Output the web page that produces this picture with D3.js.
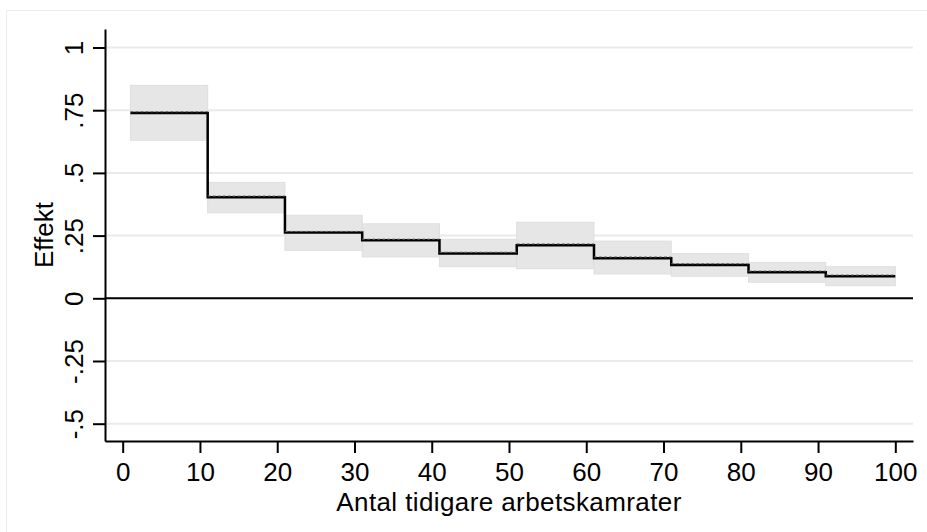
<!DOCTYPE html>
<html>
<head>
<meta charset="utf-8">
<script src="https://cdn.jsdelivr.net/npm/d3@7"></script>
<style>
  body { margin: 0; background: #fff; }
  text { font-family: "Liberation Sans", Arial, sans-serif; fill: #000; }
</style>
</head>
<body>
<script>
// bins of number of previous coworkers
var binStart = [1, 11, 21, 31, 41, 51, 61, 71, 81, 91];
var binEnd = [11, 21, 31, 41, 51, 61, 71, 81, 91, 100];
// estimated effect and confidence band
var effekt = [0.739, 0.403, 0.262, 0.231, 0.179, 0.212, 0.160, 0.133, 0.104, 0.088];
var ciLow = [0.630, 0.341, 0.191, 0.165, 0.126, 0.118, 0.097, 0.088, 0.064, 0.050];
var ciHigh = [0.849, 0.462, 0.331, 0.297, 0.235, 0.303, 0.228, 0.178, 0.143, 0.126];
// tick labels
var xTicks = [0, 10, 20, 30, 40, 50, 60, 70, 80, 90, 100];
var yTicks = [-0.5, -0.25, 0, 0.25, 0.5, 0.75, 1];
var yTickLabels = ["-.5", "-.25", "0", ".25", ".5", ".75", "1"];
var xTitle = "Antal tidigare arbetskamrater";
var yTitle = "Effekt";

var svgWidth = 927;
var svgHeight = 532;
var fontSize = "26px";

var margin = { top: 29, right: 14, bottom: 91, left: 105 };
var chartWidth = svgWidth - margin.left - margin.right;
var chartHeight = svgHeight - margin.top - margin.bottom;

var svg = d3.select("body")
  .append("svg")
  .attr("width", svgWidth)
  .attr("height", svgHeight);

// outer light frame
svg.append("rect")
  .attr("x", 6.5)
  .attr("y", 10.5)
  .attr("width", svgWidth)
  .attr("height", svgHeight)
  .attr("fill", "none")
  .attr("stroke", "#ececec")
  .attr("stroke-width", 1);

var chartGroup = svg.append("g")
  .attr("transform", `translate(${margin.left}, ${margin.top})`);

// scales
var xScale = d3.scaleLinear()
  .domain([-2.29, 102.29])
  .range([0, chartWidth]);
var yScale = d3.scaleLinear()
  .domain([-0.569, 1.0738])
  .range([chartHeight, 0]);

// grid lines
chartGroup.selectAll(".grid")
  .data(yTicks.filter(d => d !== 0))
  .enter()
  .append("line")
  .attr("x1", 0)
  .attr("x2", chartWidth)
  .attr("y1", d => yScale(d))
  .attr("y2", d => yScale(d))
  .attr("stroke", "#eaeaea")
  .attr("stroke-width", 2);

// confidence boxes
chartGroup.selectAll(".ci")
  .data(binStart)
  .enter()
  .append("rect")
  .attr("x", (d, i) => xScale(binStart[i]))
  .attr("width", (d, i) => xScale(binEnd[i]) - xScale(binStart[i]))
  .attr("y", (d, i) => yScale(ciHigh[i]))
  .attr("height", (d, i) => yScale(ciLow[i]) - yScale(ciHigh[i]))
  .attr("fill", "#e6e6e6")
  .attr("stroke", "#dedede")
  .attr("stroke-width", 1);

// zero line
chartGroup.append("line")
  .attr("x1", 0)
  .attr("x2", chartWidth)
  .attr("y1", yScale(0))
  .attr("y2", yScale(0))
  .attr("stroke", "#000")
  .attr("stroke-width", 2);

// step line
var stepPts = binStart.map((d, i) => [d, effekt[i]]);
stepPts.push([binEnd[binEnd.length - 1], effekt[effekt.length - 1]]);

var stepLine = d3.line()
  .x(d => xScale(d[0]))
  .y(d => yScale(d[1]))
  .curve(d3.curveStepAfter);

chartGroup.append("path")
  .attr("d", stepLine(stepPts))
  .attr("fill", "none")
  .attr("stroke", "#000")
  .attr("stroke-width", 2.5);

// dashed estimate line on each bin
chartGroup.selectAll(".est")
  .data(binStart)
  .enter()
  .append("line")
  .attr("x1", (d, i) => xScale(binStart[i]))
  .attr("x2", (d, i) => xScale(binEnd[i]))
  .attr("y1", (d, i) => yScale(effekt[i]) - 1.2)
  .attr("y2", (d, i) => yScale(effekt[i]) - 1.2)
  .attr("stroke", "#666")
  .attr("stroke-width", 1)
  .attr("stroke-dasharray", "3,2");

// x axis
var xAxis = d3.axisBottom(xScale)
  .tickValues(xTicks)
  .tickSize(12)
  .tickSizeOuter(0)
  .tickPadding(10);

var xg = chartGroup.append("g")
  .attr("transform", `translate(0, ${chartHeight})`)
  .call(xAxis);
xg.selectAll("text").style("font-size", fontSize);

// y axis
var yAxis = d3.axisLeft(yScale)
  .tickValues(yTicks)
  .tickFormat((d, i) => yTickLabels[i])
  .tickSize(12)
  .tickSizeOuter(0);

var yg = chartGroup.append("g").call(yAxis);
yg.selectAll("text")
  .attr("x", null)
  .attr("dy", null)
  .attr("text-anchor", "middle")
  .attr("transform", "translate(-22,0) rotate(-90)")
  .style("font-size", fontSize);

[xg, yg].forEach(g => {
  g.select(".domain").attr("stroke", "#000").attr("stroke-width", 2);
  g.selectAll(".tick line").attr("stroke", "#000").attr("stroke-width", 2);
});

// axis titles
svg.append("text")
  .attr("x", margin.left + chartWidth / 2)
  .attr("y", 511)
  .attr("text-anchor", "middle")
  .style("font-size", fontSize)
  .style("letter-spacing", "0.4px")
  .text(xTitle);

svg.append("text")
  .attr("transform", `translate(53, ${margin.top + chartHeight / 2}) rotate(-90)`)
  .attr("text-anchor", "middle")
  .style("font-size", fontSize)
  .text(yTitle);
</script>
</body>
</html>
